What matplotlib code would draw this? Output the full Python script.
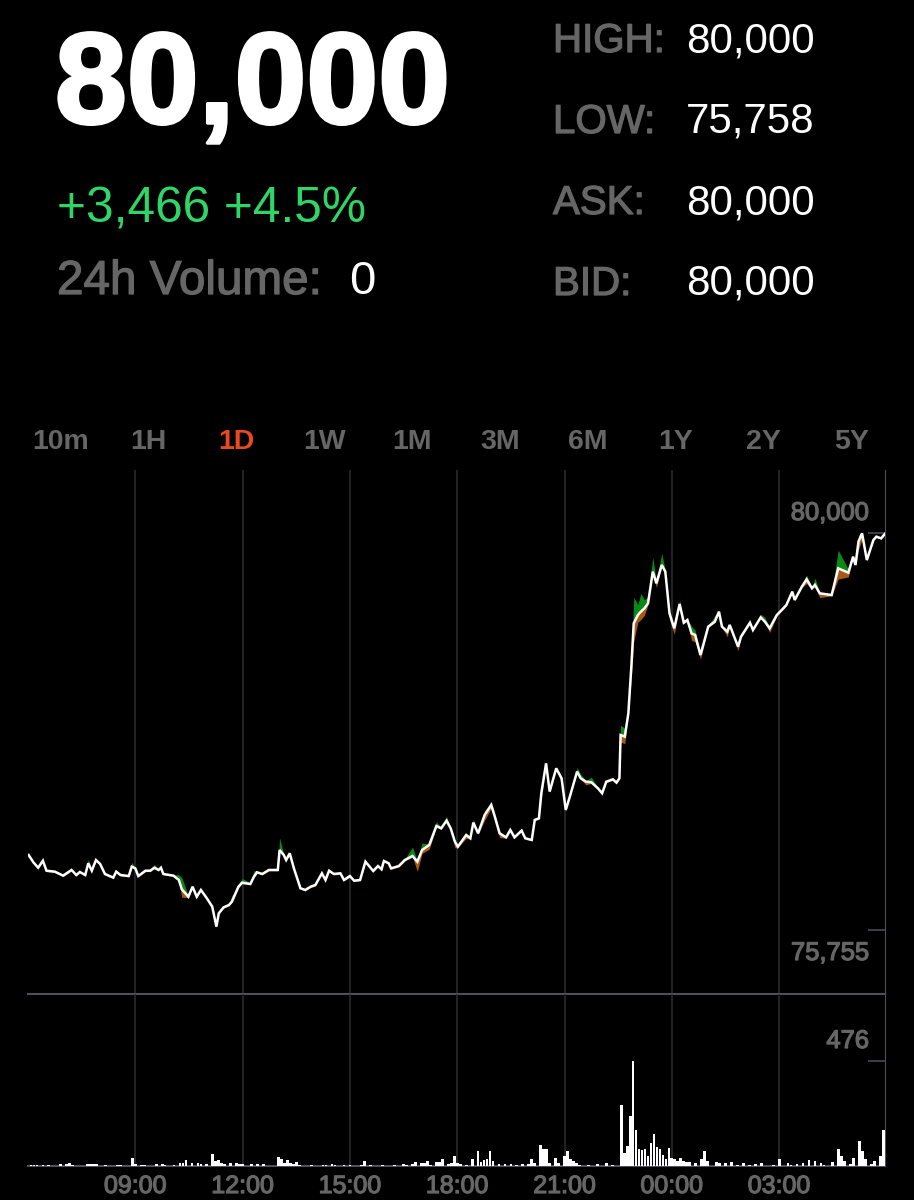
import numpy as np
import matplotlib
matplotlib.use('Agg')
import matplotlib.pyplot as plt
import matplotlib.patheffects as pe

# one day of trading, minutes counted from 06:00
minutes = [1, 9, 17, 25, 31, 45, 59, 73, 81, 87, 96, 101, 107, 114, 121, 129, 143, 148, 155, 169,
           174, 180, 185, 197, 205, 212, 219, 223, 227, 244, 253, 258, 269, 276, 283, 290, 300, 309, 316, 320,
           328, 337, 342, 353, 359, 373, 379, 384, 393, 404, 419, 422, 429, 433, 439, 446, 457, 465, 474, 482,
           493, 499, 505, 513, 524, 530, 540, 547, 557, 566, 579, 587, 593, 597, 605, 609, 622, 632, 645, 653,
           661, 673, 685, 693, 702, 709, 716, 721, 735, 742, 747, 755, 766, 777, 783, 791, 802, 809, 816, 828,
           834, 845, 850, 857, 861, 869, 875, 886, 895, 902, 908, 921, 927, 936, 945, 956, 963, 970, 981, 987,
           992, 994, 1001, 1007, 1012, 1016, 1023, 1028, 1034, 1040, 1048, 1054, 1063, 1069, 1076, 1084, 1093, 1100, 1106, 1113,
           1119, 1128, 1141, 1152, 1159, 1164, 1173, 1177, 1191, 1196, 1211, 1216, 1229, 1236, 1244, 1256, 1267, 1272, 1282, 1286,
           1298, 1306, 1315, 1320, 1328, 1348, 1359, 1376, 1384, 1388, 1393, 1399, 1407, 1418, 1423, 1431, 1437]
prices = [76557, 76479, 76421, 76496, 76389, 76379, 76336, 76397, 76343, 76375, 76343, 76468, 76389, 76503, 76461, 76354, 76315, 76379, 76343, 76332,
          76432, 76414, 76332, 76389, 76389, 76421, 76397, 76421, 76354, 76336, 76290, 76190, 76111, 76218, 76111, 76183, 76094, 76005, 75791, 75933,
          75997, 76022, 76058, 76218, 76261, 76247, 76325, 76372, 76354, 76397, 76397, 76610, 76557, 76503, 76575, 76414, 76201, 76183, 76218, 76236,
          76361, 76290, 76389, 76354, 76361, 76290, 76332, 76282, 76290, 76486, 76386, 76439, 76404, 76493, 76468, 76414, 76439, 76503, 76546, 76486,
          76610, 76664, 76867, 76842, 76924, 76842, 76700, 76646, 76771, 76736, 76903, 76789, 76985, 77092, 76967, 76789, 76746, 76825, 76746, 76818,
          76736, 76718, 76932, 76949, 77217, 77537, 77235, 77484, 77377, 77039, 77163, 77448, 77377, 77341, 77334, 77270, 77217, 77341, 77366, 77331,
          77377, 77840, 77823, 78072, 78571, 79034, 79123, 79159, 79195, 79248, 79587, 79462, 79658, 79587, 79141, 78981, 79241, 79041, 79070, 78927,
          78910, 78696, 78999, 79052, 79159, 78999, 78945, 79017, 78785, 78892, 79041, 78963, 79098, 79052, 78981, 79123, 79195, 79230, 79373, 79284,
          79426, 79505, 79409, 79444, 79355, 79337, 79622, 79576, 79747, 79658, 79908, 79997, 79711, 79925, 79961, 79943, 79989]

# how far the ask / bid sit from the line where the gap is visible
ask_gap = {101: 45, 174: 45, 212: 35, 253: 55, 258: 125, 342: 65, 359: 45, 379: 65, 422: 130, 645: 95, 661: 75,
           685: 45, 702: 45, 747: 35, 766: 45, 777: 30, 783: 35, 921: 45, 927: 45, 945: 55, 994: 105, 1001: 90, 1016: 275, 1023: 115,
           1028: 195, 1034: 90, 1040: 75, 1048: 155, 1063: 125, 1093: 40, 1113: 75, 1119: 50, 1152: 65, 1229: 35, 1236: 45, 1306: 45,
           1320: 75, 1359: 195, 1376: 35, 1393: 65}
bid_gap = {258: 85, 653: 105, 661: 35, 673: 45, 716: 65, 735: 35, 766: 55, 777: 35, 791: 45, 861: 55, 895: 45, 936: 35,
           994: 75, 1001: 75, 1012: 115, 1016: 195, 1023: 75, 1028: 85, 1034: 75, 1054: 45, 1069: 55, 1076: 65,
           1084: 65, 1113: 75, 1119: 75, 1128: 45, 1173: 55, 1191: 45, 1244: 45, 1306: 45, 1328: 45, 1359: 115,
           1376: 45, 1393: 85, 1399: 65}

# five minute volume bars, empty bars left out
vol_minutes = [5, 10, 15, 25, 35, 55, 65, 70, 75, 100, 105, 110, 115, 130, 150, 155, 175, 180, 190, 195,
               215, 225, 230, 245, 255, 260, 265, 275, 285, 290, 300, 310, 315, 320, 325, 330, 340, 350, 355, 360,
               375, 385, 395, 420, 425, 430, 435, 440, 445, 450, 455, 475, 495, 500, 510, 515, 530, 540, 560, 565,
               575, 595, 615, 630, 635, 645, 650, 660, 665, 670, 675, 685, 690, 695, 705, 710, 715, 720, 725, 735,
               745, 755, 760, 765, 770, 775, 780, 790, 800, 810, 820, 830, 840, 845, 850, 860, 865, 870, 875, 885,
               890, 900, 905, 910, 915, 920, 925, 940, 955, 970, 980, 995, 1000, 1005, 1010, 1015, 1020, 1025, 1030, 1035,
               1040, 1045, 1050, 1055, 1060, 1065, 1070, 1075, 1080, 1085, 1090, 1095, 1100, 1105, 1110, 1120, 1130, 1135, 1140, 1155,
               1160, 1170, 1180, 1190, 1200, 1210, 1220, 1230, 1250, 1260, 1275, 1280, 1290, 1300, 1310, 1320, 1330, 1335, 1350, 1360,
               1365, 1370, 1380, 1385, 1395, 1400, 1405, 1415, 1420, 1430, 1435]
volumes = [6, 3, 5, 5, 5, 9, 8, 15, 5, 9, 8, 9, 8, 6, 6, 5, 38, 8, 6, 5,
           11, 9, 5, 3, 15, 15, 26, 12, 15, 8, 9, 54, 23, 27, 14, 9, 15, 15, 11, 8,
           9, 8, 9, 41, 30, 12, 26, 12, 9, 20, 6, 6, 5, 6, 9, 6, 5, 5, 6, 21,
           5, 5, 5, 11, 6, 8, 20, 12, 14, 23, 6, 18, 18, 33, 9, 15, 45, 15, 8, 6,
           33, 68, 18, 27, 30, 68, 23, 8, 8, 8, 5, 8, 8, 30, 15, 93, 75, 75, 12, 38,
           15, 45, 68, 33, 21, 15, 6, 5, 8, 12, 5, 278, 57, 90, 225, 476, 165, 78, 72, 75,
           45, 102, 146, 87, 75, 50, 30, 80, 38, 30, 24, 38, 24, 20, 18, 15, 30, 70, 24, 18,
           12, 12, 18, 6, 12, 5, 8, 12, 5, 33, 12, 5, 8, 14, 27, 21, 15, 6, 18, 75,
           45, 24, 8, 36, 115, 68, 33, 8, 21, 45, 165]

hour_ticks = [180, 360, 540, 720, 900, 1080, 1260]
hour_labels = ['09:00', '12:00', '15:00', '18:00', '21:00', '00:00', '03:00']
ranges = ['10m', '1H', '1D', '1W', '1M', '3M', '6M', '1Y', '2Y', '5Y']
quote_labels = ['HIGH:', 'LOW:', 'ASK:', 'BID:']
quote_values = ['80,000', '75,758', '80,000', '80,000']

W, H = 914, 1200
GREY = '#666666'
GRID = '#2e2e31'
EDGE = '#505058'
font = 'Liberation Sans'
medium = [pe.withStroke(linewidth=0.9, foreground=GREY)]
heavy = [pe.withStroke(linewidth=2.5, foreground='white')]


def px_axes(left, top, right, bottom):
    return fig.add_axes([left / W, 1 - bottom / H, (right - left) / W, (bottom - top) / H])


fig = plt.figure(figsize=(W / 100, H / 100), dpi=100, facecolor='black')


def label(x, y, s, size, color, weight='normal', ha='left', effects=None):
    # x, y are pixel positions of the text baseline
    fig.text(x / W, 1 - y / H, s, fontsize=size, color=color, fontweight=weight, ha=ha, va='baseline',
             family=font, path_effects=effects)


# header
label(55, 123, '80,000', 93, 'white', 'bold', effects=heavy)
label(57, 222, '+3,466 +4.5%', 35.7, '#2fd667')
label(57, 294, '24h Volume:', 34.3, GREY, effects=medium)
label(349, 294, '0', 34, 'white')
for i in range(4):
    y = 52 + i * 81
    label(553, y, quote_labels[i], 29, GREY, effects=medium)
    label(686, y, quote_values[i], 30.3, 'white')

# range selector
for i, r in enumerate(ranges):
    selected = r == '1D'
    label(61 + i * 87.8, 449, r, 20.5, '#e8491d' if selected else GREY, 'bold', 'center')

# price panel
ax = px_axes(28, 470, 885.3, 994)
ax.set_facecolor('black')
t = np.array(minutes)
p = np.array(prices)
ask = p + np.array([ask_gap.get(m, 10) for m in minutes])
bid = p - np.array([bid_gap.get(m, 10) for m in minutes])
ax.fill_between(t, p, ask, color='#0a8a12', lw=0)
ax.fill_between(t, bid, p, color='#a85a14', lw=0)
ax.plot(t, p, color='white', lw=1.8, solid_joinstyle='miter', zorder=3)
ax.set_xlim(0, 1438)
# 80,000 sits at y=533 and 75,755 at y=930
ax.set_ylim(80000 - (994 - 533) * 10.693, 80000 + (533 - 470) * 10.693)
ax.set_yticks([75755, 80000])
ax.set_yticklabels([])
ax.yaxis.tick_right()
ax.tick_params(axis='y', direction='in', length=12, width=1.1, color=EDGE)
ax.tick_params(axis='x', length=0, labelbottom=False)
ax.set_xticks(hour_ticks)
ax.grid(axis='x', color=GRID, lw=1.1)
ax.set_axisbelow(True)
for s in ['top', 'left']:
    ax.spines[s].set_visible(False)
ax.spines['right'].set_color(EDGE)
ax.spines['bottom'].set_color(EDGE)
ax.spines['bottom'].set_linewidth(1.5)
label(869, 520, '80,000', 18.4, GREY, ha='right', effects=medium)
label(869, 960, '75,755', 18.4, GREY, ha='right', effects=medium)

# volume panel
vx = px_axes(28, 994, 885.3, 1166)
vx.set_facecolor('none')
vx.bar(vol_minutes, volumes, width=4.6, color='white', align='center', zorder=3)
vx.set_xlim(0, 1438)
vx.set_ylim(0, 172 * 4.533)
vx.set_xticks(hour_ticks)
vx.set_xticklabels([])
vx.set_yticks([476])
vx.set_yticklabels([])
vx.yaxis.tick_right()
vx.tick_params(axis='y', direction='in', length=12, width=1.1, color=EDGE)
vx.tick_params(axis='x', length=0)
vx.grid(axis='x', color=GRID, lw=1.1)
vx.set_axisbelow(True)
for s in ['top', 'left']:
    vx.spines[s].set_visible(False)
vx.spines['right'].set_color(EDGE)
vx.spines['bottom'].set_color(EDGE)
vx.spines['bottom'].set_linewidth(1.5)
label(869, 1048, '476', 18.4, GREY, ha='right', effects=medium)
for m, s in zip(hour_ticks, hour_labels):
    label(28 + m * 857.3 / 1438, 1193, s, 18, GREY, ha='center', effects=medium)

fig.savefig('out.png', dpi=100, facecolor='black')
